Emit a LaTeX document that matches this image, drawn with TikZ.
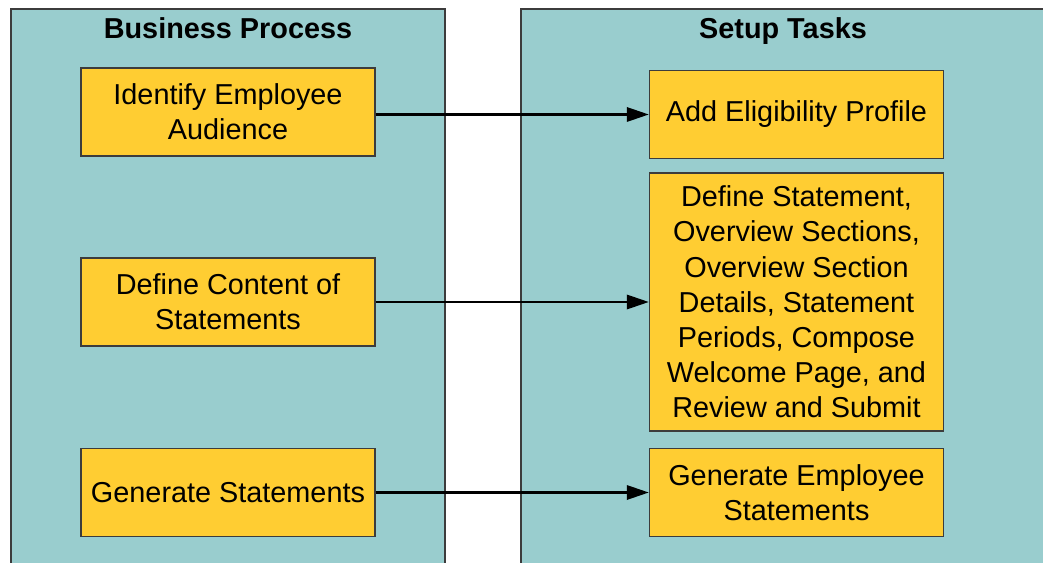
\documentclass[tikz,border=0pt]{standalone}
\usepackage{fontspec}
\setmainfont{Liberation Sans}
\definecolor{lane_c}{RGB}{153,205,206}
\definecolor{task_c}{RGB}{255,205,50}
\definecolor{edge_c}{RGB}{60,60,60}
\usetikzlibrary{arrows.meta,
                positioning,
                shapes}

\begin{document}
\begin{tikzpicture}[
			x=0.025cm, y=-0.025cm,
			lane/.style = {draw=edge_c, line width=0.9pt, fill=lane_c},
			title/.style = {anchor=base, font=\fontsize{20.5}{25}\selectfont\bfseries},
			task/.style = {rectangle, draw=edge_c, line width=1pt, fill=task_c,
				minimum width=7.35cm, minimum height=2.2cm, align=center,
				inner sep=0pt, font=\fontsize{20.5}{25}\selectfont},
			link/.style = {line width=1.5pt, -{Triangle[length=0.55cm, width=0.36cm]}},
			]
			\useasboundingbox (0,0) rectangle (1043,563);
			\clip (0,0) rectangle (1043,563);
			% lanes
			\draw[lane] (11,9) rectangle (445,600);
			\draw[lane] (521,9) rectangle (1100,600);
			\node[title] (bp) at (228,39) {Business Process};
			\node[title] (st) at (783,39) {Setup Tasks};
			% business process
			\node[task] (audience) at (228,112) {Identify Employee\\Audience};
			\node[task] (content) at (228,302) {Define Content of\\Statements};
			\node[task] (generate) at (228,492.5) {Generate Statements};
			% setup tasks
			\node[task] (profile) at (796.5,114.5) {Add Eligibility Profile};
			\node[task, minimum height=6.45cm] (define) at (796.5,302) {Define Statement,\\Overview Sections,\\Overview Section\\Details, Statement\\Periods, Compose\\Welcome Page, and\\Review and Submit};
			\node[task] (empstat) at (796.5,492.5) {Generate Employee\\Statements};
			% edges
			\draw[link] (audience.east |- profile.west) -- (profile.west);
			\draw[link] (content.east) -- (define.west);
			\draw[link] (generate.east) -- (empstat.west);
		\end{tikzpicture}
\end{document}
